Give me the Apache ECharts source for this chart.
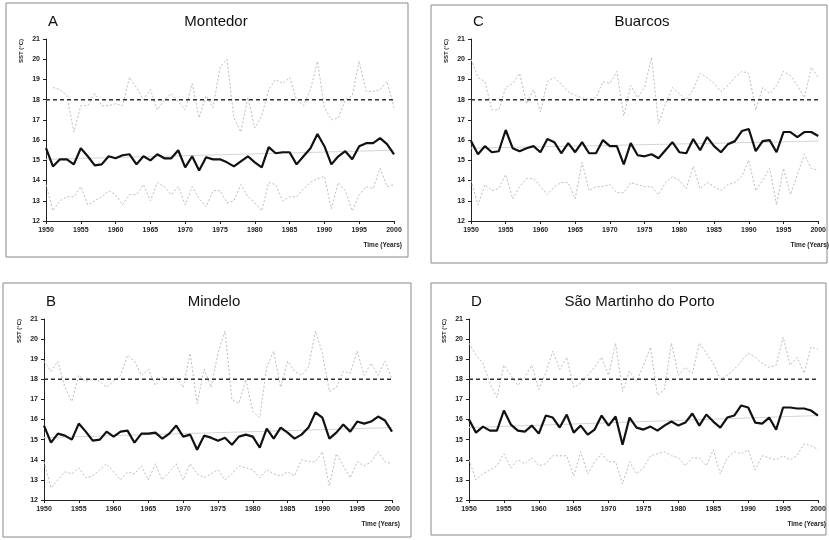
<!DOCTYPE html>
<html>
<head>
<meta charset="utf-8">
<script src="https://cdn.jsdelivr.net/npm/echarts@6/dist/echarts.min.js"></script>
<style>
  html, body { margin: 0; padding: 0; background: #fff; }
  #chart { width: 829px; height: 540px; }
</style>
</head>
<body>
<div id="chart"></div>
<script>
// years 1950..2000
const years = [];
for (let y = 1950; y <= 2000; y++) years.push(y);

const yTicks = [12, 13, 14, 15, 16, 17, 18, 19, 20, 21];
const xTicks = [1950, 1955, 1960, 1965, 1970, 1975, 1980, 1985, 1990, 1995, 2000];
const refLevel = 18;

// A - Montedor
const maxA = [null, 18.6, 18.5, 18.2, 16.4, 17.7, 17.7, 18.3, 17.7, 17.7, 17.8, 17.7, 19.1, 18.6, 18.0, 18.5, 17.5, 18.0, 18.3, 17.9, 17.5, 18.8, 17.1, 18.2, 17.6, 19.6, 20.0, 17.1, 16.4, 18.1, 16.6, 17.2, 18.5, 19.0, 18.8, 19.1, 18.0, 17.7, 18.5, 19.9, 17.6, 17.0, 17.1, 18.0, 18.2, 19.9, 18.4, 18.4, 18.5, 18.9, 17.6];
const meanA = [15.6, 14.7, 15.05, 15.05, 14.8, 15.6, 15.2, 14.75, 14.8, 15.2, 15.1, 15.25, 15.3, 14.8, 15.2, 15.0, 15.3, 15.1, 15.1, 15.5, 14.65, 15.2, 14.5, 15.15, 15.05, 15.05, 14.9, 14.7, 14.95, 15.2, 14.9, 14.65, 15.65, 15.35, 15.4, 15.4, 14.8, 15.2, 15.6, 16.3, 15.7, 14.8, 15.2, 15.45, 15.05, 15.7, 15.85, 15.85, 16.1, 15.8, 15.3];
const minA = [13.8, 12.5, 13.0, 13.2, 13.2, 13.7, 12.8, 13.0, 13.2, 13.5, 13.3, 12.8, 13.3, 13.3, 13.8, 13.0, 13.9, 13.7, 13.3, 13.7, 12.8, 13.7, 13.1, 12.7, 13.5, 13.5, 12.9, 13.0, 13.8, 13.2, 12.9, 12.5, 13.9, 13.8, 13.0, 13.2, 13.2, 13.6, 13.9, 14.1, 14.2, 12.6, 13.9, 13.5, 12.5, 13.3, 13.7, 13.6, 14.6, 13.7, 13.8];
const trendA = [15.05, 15.5];

// B - Mindelo
const maxB = [18.9, 18.4, 18.9, 17.6, 16.9, 18.2, 17.9, 18.0, 17.9, 17.6, 17.9, 18.2, 19.2, 18.9, 18.2, 18.5, 17.7, 18.1, 18.0, 18.1, 17.6, 19.3, 16.8, 18.5, 17.6, 19.3, 20.4, 17.0, 16.8, 18.0, 16.4, 16.1, 18.6, 19.4, 17.6, 18.9, 18.4, 18.2, 18.6, 20.4, 19.3, 17.4, 17.6, 18.4, 18.3, 19.4, 18.2, 18.8, 18.2, 18.9, 18.0];
const meanB = [15.7, 14.85, 15.3, 15.2, 15.0, 15.8, 15.4, 14.95, 15.0, 15.4, 15.15, 15.4, 15.45, 14.85, 15.3, 15.3, 15.35, 15.05, 15.3, 15.7, 15.15, 15.25, 14.5, 15.2, 15.1, 14.95, 15.1, 14.75, 15.15, 15.25, 15.15, 14.6, 15.55, 15.05, 15.6, 15.35, 15.05, 15.25, 15.6, 16.35, 16.1, 15.05, 15.35, 15.75, 15.4, 15.9, 15.8, 15.9, 16.15, 15.95, 15.4];
const minB = [13.9, 12.6, 13.0, 13.4, 13.3, 13.6, 13.1, 13.2, 13.5, 13.8, 13.4, 13.0, 13.4, 13.3, 13.7, 13.0, 13.8, 13.0, 13.4, 13.8, 13.0, 13.8, 13.3, 13.1, 13.3, 13.5, 13.0, 13.3, 13.7, 13.6, 13.5, 13.1, 13.5, 13.3, 13.2, 13.4, 13.2, 14.0, 13.9, 13.9, 14.4, 12.7, 14.3, 13.7, 13.1, 13.9, 13.7, 13.9, 14.4, 13.9, 13.8];
const trendB = [15.1, 15.6];

// C - Buarcos
const maxC = [20.0, 19.1, 18.9, 17.5, 17.5, 18.6, 18.8, 19.3, 17.8, 18.5, 17.4, 18.9, 19.1, 18.75, 18.4, 18.2, 18.1, 18.0, 18.1, 18.9, 18.8, 19.4, 17.2, 18.7, 18.1, 18.6, 20.1, 16.8, 17.8, 18.6, 18.3, 18.0, 18.5, 19.3, 19.1, 18.8, 18.4, 18.7, 19.1, 19.4, 19.3, 17.5, 18.6, 18.3, 18.7, 19.4, 19.2, 18.7, 18.1, 19.6, 19.1];
const meanC = [15.95, 15.3, 15.7, 15.4, 15.45, 16.5, 15.6, 15.45, 15.6, 15.7, 15.4, 16.05, 15.9, 15.35, 15.85, 15.4, 15.9, 15.35, 15.35, 16.0, 15.7, 15.7, 14.8, 15.85, 15.25, 15.2, 15.3, 15.1, 15.5, 15.9, 15.4, 15.35, 16.05, 15.5, 16.15, 15.7, 15.4, 15.8, 15.95, 16.45, 16.55, 15.45, 15.95, 16.0, 15.4, 16.4, 16.4, 16.15, 16.4, 16.4, 16.2];
const minC = [14.0, 12.8, 13.8, 13.5, 13.6, 14.3, 13.1, 13.7, 14.1, 14.1, 13.7, 13.3, 13.7, 13.9, 13.9, 13.1, 14.9, 13.5, 13.7, 13.7, 13.8, 13.4, 13.4, 13.9, 13.8, 13.7, 13.7, 13.3, 13.9, 14.2, 14.0, 13.6, 14.7, 13.6, 13.9, 13.7, 13.5, 13.8, 13.9, 14.2, 15.0, 13.5, 14.0, 14.6, 12.8, 14.6, 13.3, 14.3, 15.3, 14.6, 14.5];
const trendC = [15.6, 15.95];

// D - São Martinho do Porto
const maxD = [19.8, 19.2, 18.8, 17.8, 17.1, 18.7, 18.2, 17.7, 18.1, 18.7, 17.5, 18.3, 19.4, 18.5, 19.1, 17.6, 17.8, 18.2, 18.6, 19.1, 18.2, 19.8, 17.4, 18.4, 17.9, 18.7, 19.6, 17.2, 17.5, 19.8, 18.2, 18.6, 18.3, 19.8, 19.3, 18.8, 18.0, 18.2, 18.5, 18.9, 19.3, 19.1, 18.8, 18.6, 18.7, 20.1, 18.7, 19.1, 18.3, 19.6, 19.5];
const meanD = [16.0, 15.35, 15.65, 15.45, 15.45, 16.45, 15.75, 15.45, 15.4, 15.7, 15.3, 16.2, 16.1, 15.6, 16.25, 15.35, 15.7, 15.25, 15.5, 16.2, 15.7, 16.15, 14.75, 16.1, 15.6, 15.5, 15.65, 15.45, 15.7, 15.9, 15.7, 15.85, 16.3, 15.7, 16.25, 15.9, 15.6, 16.1, 16.2, 16.7, 16.6, 15.85, 15.8, 16.1, 15.5, 16.6, 16.6, 16.55, 16.55, 16.45, 16.2];
const minD = [14.0, 13.0, 13.3, 13.5, 13.7, 14.3, 13.6, 14.0, 13.8, 14.1, 13.7, 13.8, 14.2, 14.2, 14.2, 13.2, 14.4, 13.3, 13.9, 14.3, 13.9, 13.9, 12.8, 13.9, 13.3, 13.6, 14.2, 14.3, 14.4, 14.2, 14.1, 13.7, 14.1, 14.1, 13.7, 14.5, 13.3, 14.1, 14.4, 14.3, 14.5, 13.5, 14.2, 14.1, 14.0, 14.2, 14.0, 14.2, 14.8, 14.7, 14.5];
const trendD = [15.6, 16.2];

const panelLetters = ['A', 'C', 'B', 'D'];
const panelNames = ['Montedor', 'Buarcos', 'Mindelo', 'São Martinho do Porto'];
const panelMax = [maxA, maxC, maxB, maxD];
const panelMean = [meanA, meanC, meanB, meanD];
const panelMin = [minA, minC, minB, minD];
const panelTrend = [trendA, trendC, trendB, trendD];

// layout (pixels)
const grids = [
  { left: 46, top: 39, width: 348, height: 182 },
  { left: 471, top: 39, width: 350, height: 182 },
  { left: 44, top: 319, width: 348, height: 181 },
  { left: 469, top: 319, width: 349, height: 181 }
];
const frames = [
  { x: 6, y: 3, w: 402, h: 254 },
  { x: 431, y: 5, w: 396, h: 258 },
  { x: 3, y: 283, w: 408, h: 254 },
  { x: 431, y: 283, w: 395, h: 252 }
];

const chart = echarts.init(document.getElementById('chart'), null, { renderer: 'canvas' });

const font = 'Liberation Sans, Arial, sans-serif';
const pair = arr => arr.map((v, i) => [years[i], v]);

const xAxes = [], yAxes = [], series = [], graphics = [];

grids.forEach((g, i) => {
  xAxes.push({
    gridIndex: i, type: 'value', min: 1950, max: 2000, interval: 5,
    axisLine: { lineStyle: { color: '#222', width: 1 } },
    axisTick: { length: 3, lineStyle: { color: '#222' } },
    axisLabel: { color: '#222', fontSize: 7, fontWeight: 'bold', fontFamily: font, margin: 6,
      formatter: v => xTicks.includes(v) ? String(v) : '' },
    splitLine: { show: false }
  });
  yAxes.push({
    gridIndex: i, type: 'value', min: 12, max: 21, interval: 1,
    axisLine: { show: true, lineStyle: { color: '#222', width: 1 } },
    axisTick: { show: true, length: 3, lineStyle: { color: '#222' } },
    axisLabel: { color: '#222', fontSize: 7, fontWeight: 'bold', fontFamily: font, margin: 6,
      formatter: v => yTicks.includes(v) ? String(v) : '' },
    splitLine: { show: false }
  });

  const common = { xAxisIndex: i, yAxisIndex: i, symbol: 'none', silent: true, animation: false };
  series.push(Object.assign({ type: 'line', name: 'trend', data: [[1950, panelTrend[i][0]], [2000, panelTrend[i][1]]],
    lineStyle: { color: '#d6d6d6', width: 1 } }, common));
  series.push(Object.assign({ type: 'line', name: 'max', data: pair(panelMax[i]),
    lineStyle: { color: '#bdbdbd', width: 1, type: [2, 2] } }, common));
  series.push(Object.assign({ type: 'line', name: 'min', data: pair(panelMin[i]),
    lineStyle: { color: '#bdbdbd', width: 1, type: [2, 2] } }, common));
  series.push(Object.assign({ type: 'line', name: 'ref', data: [[1950, refLevel], [2000, refLevel]],
    lineStyle: { color: '#333', width: 1.5, type: [4, 3] } }, common));
  series.push(Object.assign({ type: 'line', name: 'mean', data: pair(panelMean[i]),
    lineStyle: { color: '#111', width: 2.2 } }, common));

  const f = frames[i];
  graphics.push({ type: 'rect', shape: { x: f.x, y: f.y, width: f.w, height: f.h },
    style: { fill: 'none', stroke: '#888', lineWidth: 1 } });
  graphics.push({ type: 'text', x: g.left + 2, y: g.top - 17,
    style: { text: panelLetters[i], font: '15px ' + font, fill: '#111', textAlign: 'left', textVerticalAlign: 'middle' } });
  graphics.push({ type: 'text', x: g.left + g.width / 2 - 4, y: g.top - 17,
    style: { text: panelNames[i], font: '15px ' + font, fill: '#111', textAlign: 'center', textVerticalAlign: 'middle' } });
  graphics.push({ type: 'text', x: g.left - 25, y: g.top + 12, rotation: Math.PI / 2,
    style: { text: 'SST (°C)', font: 'bold 6px ' + font, fill: '#222', textAlign: 'center', textVerticalAlign: 'middle' } });
  graphics.push({ type: 'text', x: g.left + g.width + 8, y: g.top + g.height + 24,
    style: { text: 'Time (Years)', font: 'bold 6.5px ' + font, fill: '#222', textAlign: 'right', textVerticalAlign: 'middle' } });
});

chart.setOption({
  backgroundColor: '#fff',
  animation: false,
  grid: grids,
  xAxis: xAxes,
  yAxis: yAxes,
  series: series,
  graphic: graphics
});
</script>
</body>
</html>
